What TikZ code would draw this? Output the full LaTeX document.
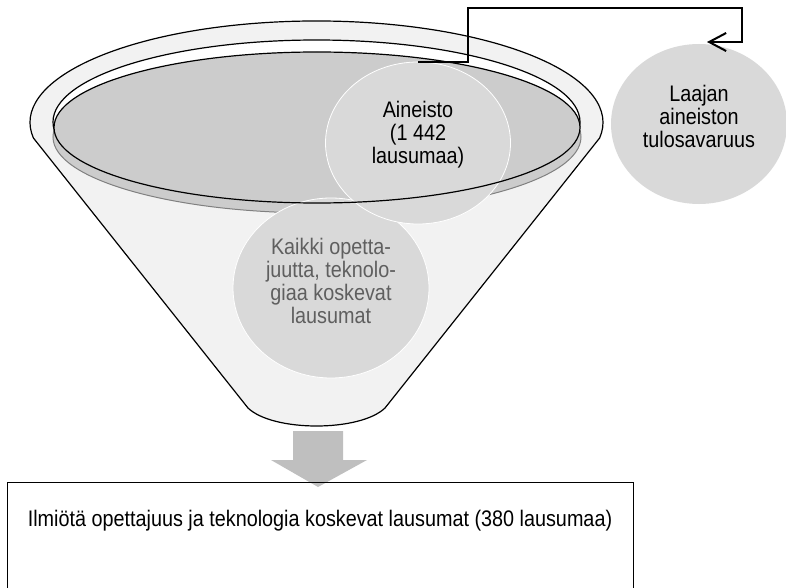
\documentclass[tikz,border=0pt]{standalone}
\usepackage{fontspec}
\setmainfont{Liberation Sans}[FakeStretch=0.88]
\usetikzlibrary{shapes.geometric,arrows.meta}
\definecolor{rimfill}{HTML}{F2F2F2}
\definecolor{bowlgray}{HTML}{CCCCCC}
\definecolor{bubble}{HTML}{D9D9D9}
\definecolor{shadowline}{HTML}{808080}
\definecolor{flowgray}{HTML}{BFBFBF}
\definecolor{softtext}{HTML}{5F5F5F}

\begin{document}
\begin{tikzpicture}[x=1pt,y=-1pt,
  outline/.style={draw=black,line width=1.2pt},
  bubblenode/.style={ellipse,fill=bubble,draw=white,line width=0.8pt,inner sep=0pt},
  caption/.style={align=center,font=\fontsize{22.5}{23}\selectfont,inner sep=0pt},
  loopline/.style={draw=black,line width=2pt,-{Straight Barb[length=17pt,width=18pt]}},
]
\useasboundingbox (0,0) rectangle (786,588);

% funnel: rim on top, cone below
\path[outline,fill=rimfill]
  (33.4,138) arc[start angle=171.2,end angle=368.8,x radius=286.5,y radius=101.5]
  -- (385,408) .. controls (360,432) and (273,432) .. (248,408) -- cycle;

% inner ring, bowl shadow and bowl surface
\path[outline,fill=white] (316.5,122) ellipse[x radius=263.5,y radius=82];
\path[draw=shadowline,line width=1pt,fill=bowlgray] (317,137) ellipse[x radius=264,y radius=76];
\fill[bowlgray] (317,127.5) ellipse[x radius=263,y radius=75.5];

% bubbles
\node[bubblenode,minimum width=196pt,minimum height=180pt] (kai) at (331,288) {};
\node[bubblenode,minimum width=185pt,minimum height=162pt] (ain) at (418,143) {};
\node[bubblenode,draw=none,minimum width=176pt,minimum height=160pt] (laa) at (699,124) {};

% bowl edge over the bubbles
\draw[outline] (317,127.5) ellipse[x radius=263,y radius=75.5];

% bubble texts
\node[caption,text=softtext] (kaitext) at ([yshift=7pt]kai.center)
  {Kaikki opetta-\\juutta, teknolo-\\giaa koskevat\\lausumat};
\node[caption] (aintext) at ([yshift=8pt]ain.center) {Aineisto\\(1 442\\lausumaa)};
\node[caption] (laatext) at ([yshift=8pt]laa.center) {Laajan\\aineiston\\tulosavaruus};

% feedback loop
\coordinate (laatip) at (707,42);
\draw[loopline] (ain.north) -- ++(50,0) |- (742,8) |- (laatip);

% output of the funnel
\fill[flowgray] (293,431) -- (343,431) -- (343,460) -- (367,460) -- (318,487)
  -- (271,460) -- (293,460) -- cycle;
\node[draw=black,line width=1.2pt,minimum width=626pt,minimum height=160pt,
  anchor=north west,inner sep=0pt] (result) at (7,482) {};
\node[caption] (resulttext) at (320,521)
  {Ilmiötä opettajuus ja teknologia koskevat lausumat (380 lausumaa)};
\end{tikzpicture}
\end{document}
